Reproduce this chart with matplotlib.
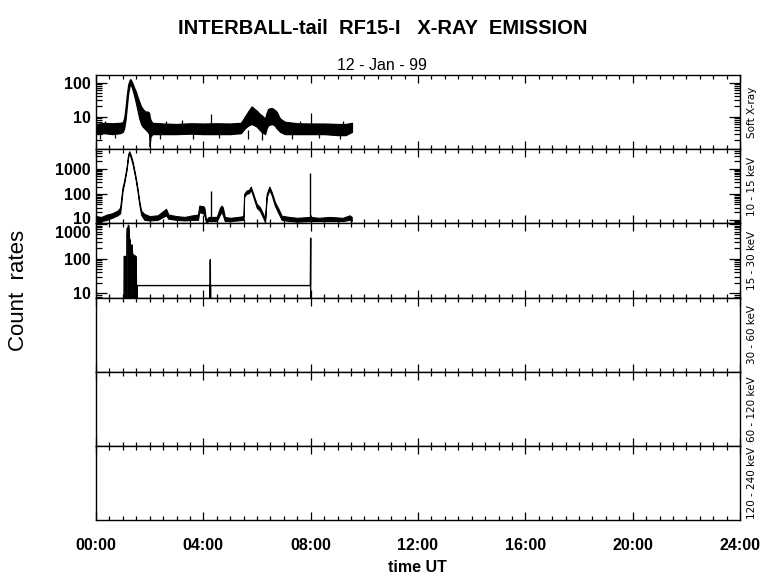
import numpy as np
import matplotlib
matplotlib.use('Agg')
import matplotlib.pyplot as plt
import matplotlib.transforms as mtransforms
from matplotlib.ticker import FixedLocator, LogLocator, NullLocator, NullFormatter

plt.rcParams['font.family'] = ['Liberation Sans', 'DejaVu Sans']

TITLE = 'INTERBALL-tail  RF15-I   X-RAY  EMISSION'
DATE = '12 - Jan - 99'
CHANNELS = ['Soft X-ray', '10 - 15 keV', '15 - 30 keV', '30 - 60 keV', '60 - 120 keV', '120 - 240 keV']
HOUR_TICKS = [0, 4, 8, 12, 16, 20, 24]
HOUR_LABELS = ['00:00', '04:00', '08:00', '12:00', '16:00', '20:00', '24:00']

# soft X-ray: upper / lower envelope of the noisy trace (hours UT)
soft_t = [0.0, 0.3, 0.6, 0.9, 1.0, 1.05, 1.10, 1.15, 1.20, 1.25, 1.28, 1.32, 1.37, 1.43, 1.49,
          1.55, 1.61, 1.68, 1.74, 1.80, 1.86, 1.93, 1.98, 2.0, 2.03, 2.1, 2.5, 3.0, 3.5, 4.0,
          4.5, 5.0, 5.4, 5.55, 5.69, 5.8, 5.9, 5.99, 6.1, 6.17, 6.3, 6.36, 6.42, 6.55, 6.65,
          6.73, 6.86, 7.04, 7.5, 8.0, 8.5, 9.0, 9.3, 9.54]
soft_hi = [6.0, 6.5, 6.3, 6.5, 6.8, 9, 18, 45, 90, 120, 130, 115, 93, 70, 54,
           38, 28, 20, 17, 15, 14, 14, 13, 10, 8, 6.5, 6.2, 6.0, 6.3, 6.2,
           6.3, 6.2, 6.5, 10, 15, 20, 17, 15, 12, 11, 8.7, 13, 17, 18, 16,
           14, 8.7, 7.0, 6.3, 6.2, 6.2, 6.0, 6.0, 6.5]
soft_lo = [3.0, 3.2, 3.0, 3.2, 3.5, 4.5, 8, 20, 50, 80, 95, 80, 60, 40, 25,
           15, 9, 6, 5, 4.5, 4, 3.5, 3.0, 1.3, 2.5, 3.0, 3.0, 3.0, 3.1, 3.0,
           3.0, 3.0, 3.2, 4.5, 5.5, 6.0, 5.5, 5.0, 4.0, 3.5, 3.0, 4.5, 5.5, 6.0, 5.5,
           4.5, 3.5, 3.0, 3.0, 3.0, 3.0, 2.8, 2.8, 3.5]
soft_up_t = [0.35, 2.6, 3.2, 4.29, 7.6, 8.0, 9.2]
soft_up_v = [7.5, 7.5, 7.8, 11.5, 7.5, 13, 7.2]
soft_dn_t = [0.15, 0.7, 2.4, 3.6, 4.6, 5.65, 6.2, 7.3, 8.3, 9.1]
soft_dn_v = [2.2, 2.3, 2.2, 2.1, 2.3, 2.2, 2.0, 2.2, 2.3, 2.2]

# 10 - 15 keV
hard1_t = [0.0, 0.2, 0.4, 0.6, 0.8, 0.9, 0.99, 1.05, 1.14, 1.20, 1.24, 1.30, 1.37, 1.43, 1.49,
           1.55, 1.61, 1.68, 1.80, 2.0, 2.3, 2.61, 2.7, 3.0, 3.3, 3.6, 3.8, 3.85, 4.0, 4.04,
           4.1, 4.2, 4.5, 4.62, 4.68, 4.73, 4.8, 5.0, 5.3, 5.5, 5.52, 5.61, 5.7, 5.77, 5.86,
           5.99, 6.11, 6.23, 6.3, 6.36, 6.46, 6.55, 6.67, 6.8, 6.92, 7.2, 7.5, 8.0, 8.3, 8.7,
           9.2, 9.45, 9.53]
hard1_hi = [14, 13, 16, 18, 23, 30, 190, 345, 1150, 3800, 4800, 3300, 1800, 850, 400,
            160, 57, 23, 17, 14, 15, 27, 16, 14, 13, 15, 16, 36, 34, 30,
            10, 13, 13, 30, 36, 30, 13, 12, 13, 14, 103, 140, 150, 200, 103,
            42, 31, 17, 11, 103, 200, 120, 49, 27, 14.5, 13, 12, 13, 12, 13,
            12, 15, 13]
hard1_lo = [9, 9, 10, 12, 15, 18, 140, 260, 900, 3000, 3900, 2600, 1400, 680, 310,
            125, 42, 16, 10, 9.5, 10, 15, 11, 10, 9.5, 10, 10, 20, 18, 15,
            8, 9, 9, 16, 21, 15, 9, 9, 9.5, 10, 80, 105, 110, 150, 80,
            30, 22, 12, 8, 75, 150, 90, 35, 18, 10, 9, 8.5, 9, 9, 9,
            9, 10, 9]
hard1_spike_t = [4.29, 7.98]
hard1_spike_v = [140, 670]

# 15 - 30 keV (values below the axis mean no counts)
hard2_t = [1.04, 1.05, 1.10, 1.11, 1.14, 1.15, 1.17, 1.19, 1.21, 1.23, 1.25, 1.27, 1.29, 1.31,
           1.34, 1.36, 1.38, 1.40, 1.43, 1.45, 1.47, 1.49, 1.52, 1.54, 4.25, 4.25, 4.26, 4.27,
           4.27, 7.99, 8.0, 8.0]
hard2_v = [1, 115, 115, 1, 1, 500, 765, 400, 920, 600, 280, 350, 1, 200,
           250, 120, 1, 130, 100, 1, 120, 110, 1, 16.6, 16.6, 1, 93, 1,
           16.6, 16.6, 390, 1]

YLIMS = [(1.07, 172), (7.3, 5800), (7.5, 1050)]
YTICKS = [[10, 100], [10, 100, 1000], [10, 100, 1000]]

fig, axes = plt.subplots(6, 1, sharex=True, figsize=(7.8, 5.79), dpi=100)
fig.subplots_adjust(left=96 / 780, right=740 / 780, top=1 - 75 / 579, bottom=1 - 520 / 579, hspace=0)

ax = axes[0]
ax.fill_between(soft_t, soft_lo, soft_hi, color='black', lw=0.9)
ax.vlines(soft_up_t, 5, soft_up_v, color='black', lw=0.9)
ax.vlines(soft_dn_t, soft_dn_v, 4, color='black', lw=0.9)

ax = axes[1]
ax.fill_between(hard1_t, hard1_lo, hard1_hi, color='black', lw=0.8)
ax.vlines(hard1_spike_t, 10, hard1_spike_v, color='black', lw=1.0)

ax = axes[2]
t2 = np.array(hard2_t)
ax.fill_between(t2, 1, hard2_v, where=t2 < 1.53, color='black', lw=0.5)
ax.plot(hard2_t, hard2_v, color='black', lw=1.0)

for i, ax in enumerate(axes):
    for s in ax.spines.values():
        s.set_linewidth(1.0)
    ax.set_xlim(0, 24)
    ax.xaxis.set_major_locator(FixedLocator(HOUR_TICKS))
    ax.xaxis.set_minor_locator(FixedLocator(np.arange(0, 24.01, 0.5)))
    ax.tick_params(axis='x', which='both', direction='in', top=True, bottom=True, width=0.9)
    ax.tick_params(axis='x', which='major', length=6)
    ax.tick_params(axis='x', which='minor', length=3.2)
    if i < 3:
        ax.set_yscale('log')
        ax.set_ylim(*YLIMS[i])
        ax.yaxis.set_major_locator(FixedLocator(YTICKS[i]))
        ax.yaxis.set_minor_locator(LogLocator(base=10, subs=np.arange(2, 10)))
        ax.yaxis.set_minor_formatter(NullFormatter())
        ax.set_yticklabels([str(v) for v in YTICKS[i]])
        ax.tick_params(axis='y', which='both', direction='in', left=True, right=True, width=0.9, pad=4)
        ax.tick_params(axis='y', which='major', length=8)
        ax.tick_params(axis='y', which='minor', length=4)
        for lab in ax.get_yticklabels():
            lab.set_fontweight('bold')
            lab.set_fontsize(11.5)
    else:
        ax.set_ylim(0, 1)
        ax.yaxis.set_major_locator(NullLocator())
        ax.yaxis.set_minor_locator(NullLocator())

# labels at the shared panel edge are nudged apart, as in the original
lab10 = axes[1].get_yticklabels()[0]
lab10.set_transform(lab10.get_transform() + mtransforms.ScaledTranslation(0, 1.5 / 72, fig.dpi_scale_trans))
lab1000 = axes[2].get_yticklabels()[-1]
lab1000.set_transform(lab1000.get_transform() + mtransforms.ScaledTranslation(0, -5.5 / 72, fig.dpi_scale_trans))

axes[-1].set_xticklabels(HOUR_LABELS, fontsize=11.5, fontweight='bold')
axes[-1].tick_params(axis='x', which='major', pad=13)

for i, name in enumerate(CHANNELS):
    yc = 1 - (75 + 74.17 * (i + 0.5)) / 579
    fig.text(752 / 780, yc, name, rotation=90, ha='center', va='center', fontsize=7.5,
             family='DejaVu Sans')

fig.text(383 / 780, 1 - 28 / 579, TITLE, ha='center', va='center', fontsize=14.5, fontweight='bold')
fig.text(382 / 780, 1 - 65 / 579, DATE, ha='center', va='center', fontsize=11.5)
fig.text(19 / 780, 1 - 290 / 579, 'Count  rates', rotation=90, ha='center', va='center', fontsize=16)
fig.text(417 / 780, 1 - 568 / 579, 'time UT', ha='center', va='center', fontsize=11.5, fontweight='bold')

plt.savefig('out.png', dpi=100)
plt.close()
